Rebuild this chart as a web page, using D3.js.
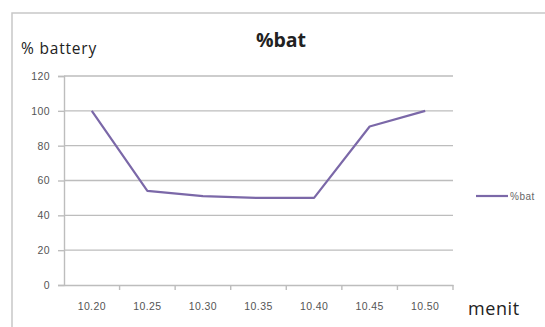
<!DOCTYPE html>
<html><head><meta charset="utf-8">
<script src="https://cdn.jsdelivr.net/npm/d3@7"></script>
<style>body{margin:0;background:#fff;}svg{display:block;font-family:"Open Sans","Liberation Sans",sans-serif;}</style>
</head><body><svg id="c" width="545" height="327"></svg>
<script>
const categories = ["10.20","10.25","10.30","10.35","10.40","10.45","10.50"];
const batValues = [100, 54, 51, 50, 50, 91, 100];
const yTicks = [0, 20, 40, 60, 80, 100, 120];
const seriesName = "%bat";
const chartTitle = "%bat";
const yTitle = "% battery";
const xTitle = "menit";

const svg = d3.select("#c");
// outer frame (cropped at right/bottom)
svg.append("rect").attr("x",12).attr("y",13).attr("width",560).attr("height",340)
  .attr("fill","none").attr("stroke","#c8c8c8").attr("stroke-width",1.5);

const x = d3.scaleBand().domain(categories).range([64,453]);
const y = d3.scaleLinear().domain([0,120]).range([285,76]);

// gridlines
svg.append("g").selectAll("line").data(yTicks.filter(d=>d>0)).join("line")
  .attr("x1",64).attr("x2",453).attr("y1",d=>y(d)).attr("y2",d=>y(d))
  .attr("stroke","#bdbdbd").attr("stroke-width",1.4);

// y axis
const ya = svg.append("g").attr("transform","translate(64,0)")
  .call(d3.axisLeft(y).tickValues(yTicks).tickSize(6).tickPadding(8));
ya.select(".domain").attr("stroke","#bdbdbd").attr("stroke-width",1.4);
ya.selectAll(".tick line").attr("stroke","#bdbdbd").attr("stroke-width",1.4);
ya.selectAll("text").attr("font-size",10.5).attr("fill","#555").attr("letter-spacing",0.4)
  .attr("font-family","Liberation Sans, sans-serif");

// x axis
const xa = svg.append("g").attr("transform","translate(0,285)")
  .call(d3.axisBottom(x).tickSize(0).tickPadding(18));
xa.select(".domain").attr("stroke","#bdbdbd").attr("stroke-width",1.4);
xa.selectAll("text").attr("font-size",10.5).attr("fill","#555").attr("letter-spacing",0.4)
  .attr("font-family","Liberation Sans, sans-serif");
// category boundary ticks
xa.append("g").selectAll("line").data(categories).join("line")
  .attr("x1",d=>x(d)+x.bandwidth()).attr("x2",d=>x(d)+x.bandwidth())
  .attr("y1",0).attr("y2",5).attr("stroke","#bdbdbd").attr("stroke-width",1.4);

// series line
const line = d3.line().x((d,i)=>x(categories[i])+x.bandwidth()/2).y(d=>y(d));
svg.append("path").datum(batValues).attr("d",line)
  .attr("fill","none").attr("stroke","#7b68a8").attr("stroke-width",2.2).attr("stroke-linejoin","round");

// titles
svg.append("text").attr("x",281).attr("y",47).attr("text-anchor","middle")
  .attr("font-size",19.5).attr("font-weight","bold").attr("fill","#222").text(chartTitle);
svg.append("text").attr("x",21).attr("y",54).attr("letter-spacing",0.8)
  .attr("font-size",15.5).attr("fill","#222").text(yTitle);
svg.append("text").attr("x",468).attr("y",315).attr("letter-spacing",0.6)
  .attr("font-size",18).attr("fill","#222").text(xTitle);

// legend
svg.append("line").attr("x1",476).attr("x2",508).attr("y1",196).attr("y2",196)
  .attr("stroke","#7b68a8").attr("stroke-width",2.2);
svg.append("text").attr("x",510).attr("y",200).attr("font-size",10).attr("fill","#666")
  .attr("letter-spacing",0.5).attr("font-family","Liberation Sans, sans-serif").text(seriesName);
</script></body></html>
